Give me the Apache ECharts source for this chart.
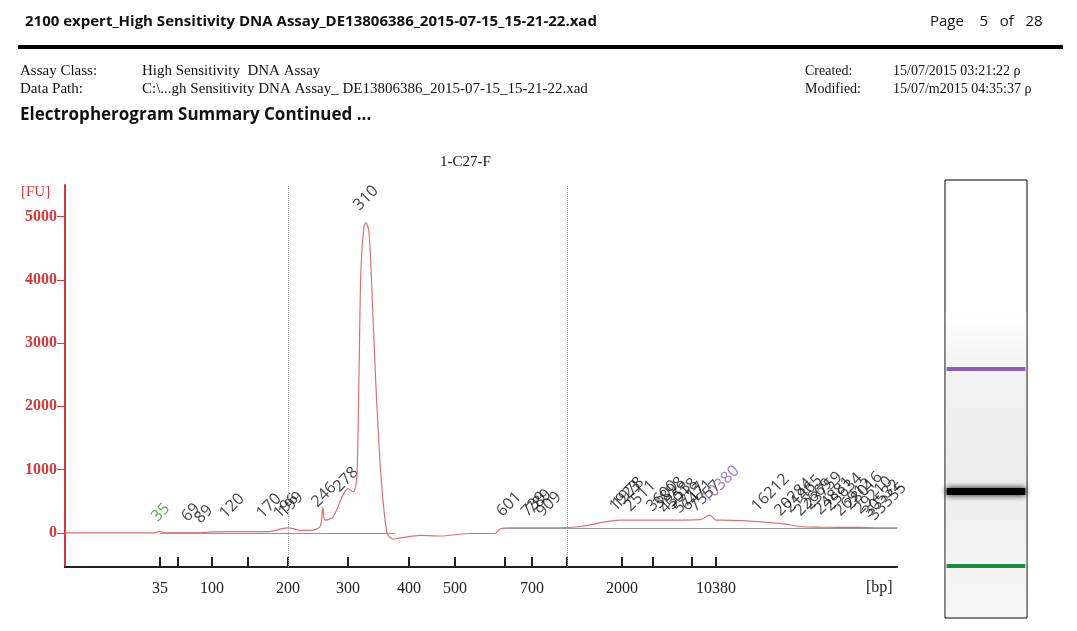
<!DOCTYPE html>
<html><head><meta charset="utf-8">
<script src="https://cdn.jsdelivr.net/npm/echarts@6/dist/echarts.min.js"></script>
<style>html,body{margin:0;background:#fff}#main{width:1077px;height:631px}</style>
</head><body><div id="main"></div>
<script>
// x is a migration position (0..832), the bp axis is a non linear ladder
var curveX = [0, 90, 95, 100, 135, 145, 165, 205, 215, 223, 230, 235, 245, 255, 258, 260, 268, 278, 283, 288, 290, 292, 294, 296, 299, 301, 304, 307, 311, 316, 322, 328, 335, 355, 375, 405, 430, 435, 445, 495, 515, 555, 575, 635, 645, 651, 657, 715, 735, 755, 795, 815, 832];
var curveY = [0, 0, 25, 0, 0, 15, 20, 20, 60, 80, 60, 40, 40, 100, 400, 200, 250, 600, 700, 650, 700, 900, 2500, 4200, 4850, 4900, 4750, 3800, 2300, 900, 0, -100, -80, -40, -50, -10, -10, 60, 80, 80, 100, 200, 200, 210, 280, 200, 200, 150, 100, 90, 85, 80, 80];
var ladderPos = [95, 147, 223, 283, 344, 390, 467, 557, 651];
var ladderText = ['35', '100', '200', '300', '400', '500', '700', '2000', '10380'];
var minorPos = [113, 183, 440, 502, 588, 627];
var gridPos = [223, 502];
var peakX = [95, 125, 138, 163, 200, 217, 222, 255, 277, 297, 440, 465, 470, 480, 553, 556, 568, 590, 597, 603, 610, 617, 625, 633, 645, 695, 718, 728, 738, 748, 758, 768, 778, 788, 798, 806, 812];
var peakY = [130, 130, 100, 180, 180, 180, 210, 360, 600, 5050, 210, 210, 250, 210, 290, 340, 290, 290, 340, 260, 320, 260, 300, 290, 420, 290, 220, 270, 220, 320, 240, 300, 220, 320, 250, 200, 150];
var peakText = ['35', '69', '89', '120', '170', '196', '199', '246', '278', '310', '601', '739', '789', '909', '1923', '1978', '2511', '3600', '3898', '4353', '5018', '5717', '6471', '7557', '10380', '16212', '20284', '21465', '22669', '23759', '24881', '25634', '26912', '28016', '29210', '30532', '33355'];
var bandPos = [43, 71, 88];
var bandColor = ['#8e5bb5', '#000000', '#1f8a3a'];
var bandWidth = [4, 7, 4];

var red = '#d03a3a';
var serif = 'Liberation Serif';
var chart = echarts.init(document.getElementById('main'));

var curve = curveX.map(function (x, i) { return [x, curveY[i]]; });
var peaks = peakX.map(function (x, i) {
    var c = '#111';
    if (peakText[i] === '35') c = '#2a9a3a';
    if (peakText[i] === '10380') c = '#8e5bb5';
    return { value: [x, peakY[i]], label: { color: c } };
});
var textMap = {};
ladderPos.forEach(function (p, i) { textMap[p] = ladderText[i]; });

var option = {
    animation: false,
    backgroundColor: '#fff',
    graphic: [
        { type: 'text', left: 25, top: 14, style: { text: '2100 expert_High Sensitivity DNA Assay_DE13806386_2015-07-15_15-21-22.xad', font: 'bold 15px "Open Sans"', fill: '#111' } },
        { type: 'text', left: 930, top: 14, style: { text: 'Page    5   of   28', font: '15px "Open Sans"', fill: '#111' } },
        { type: 'rect', shape: { x: 18, y: 45, width: 1045, height: 4 }, style: { fill: '#000' } },
        { type: 'text', left: 20, top: 62, style: { text: 'Assay Class:\nData Path:', font: '15px "Liberation Serif"', lineHeight: 18, fill: '#111' } },
        { type: 'text', left: 142, top: 62, style: { text: 'High Sensitivity  DNA Assay\nC:\\...gh Sensitivity DNA Assay_ DE13806386_2015-07-15_15-21-22.xad', font: '15px "Liberation Serif"', lineHeight: 18, fill: '#111' } },
        { type: 'text', left: 805, top: 62, style: { text: 'Created:\nModified:', font: '14px "Liberation Serif"', lineHeight: 18, fill: '#111' } },
        { type: 'text', left: 893, top: 62, style: { text: '15/07/2015 03:21:22 \u03c1\n15/07/m2015 04:35:37 \u03c1', font: '14px "Liberation Serif"', lineHeight: 18, fill: '#111' } },
        { type: 'text', left: 20, top: 107, style: { text: 'Electropherogram Summary Continued ...', font: 'bold 17px "Open Sans"', fill: '#111' } },
        { type: 'text', left: 440, top: 155, style: { text: '1-C27-F', font: '15px "Liberation Serif"', fill: '#111' } },
        { type: 'text', left: 21, top: 185, style: { text: '[FU]', font: '15px "Liberation Serif"', fill: red } },
        { type: 'text', left: 866, top: 580, style: { text: '[bp]', font: '16px "Liberation Serif"', fill: '#222' } }
    ],
    grid: [
        { left: 65, right: 180, top: 185, bottom: 64 },
        { left: 945, width: 82, top: 180, height: 438 }
    ],
    xAxis: [{
        type: 'value', min: 0, max: 832, gridIndex: 0,
        axisLine: { onZero: false, lineStyle: { color: '#222', width: 2 } },
        axisTick: { customValues: ladderPos.concat(minorPos), length: 10, inside: true, lineStyle: { color: '#222', width: 2 } },
        axisLabel: { customValues: ladderPos, formatter: function (v) { return textMap[v] || ''; }, color: '#222', fontFamily: serif, fontSize: 16, margin: 14 },
        splitLine: { show: false }
    }, {
        type: 'value', gridIndex: 1, min: 0, max: 1, show: false
    }],
    yAxis: [{
        type: 'value', min: -540, max: 5500, gridIndex: 0,
        axisLine: { show: true, lineStyle: { color: red, width: 2 } },
        axisTick: { show: true, customValues: [0, 1000, 2000, 3000, 4000, 5000], length: 8, lineStyle: { color: red } },
        axisLabel: { customValues: [0, 1000, 2000, 3000, 4000, 5000], formatter: function (v) { return String(v); }, color: red, fontFamily: serif, fontWeight: 'bold', fontSize: 16 },
        splitLine: { show: false }
    }, {
        type: 'value', gridIndex: 1, min: 0, max: 100, inverse: true,
        axisLine: { show: false }, axisLabel: { show: false }, axisTick: { show: false }, splitLine: { show: false }
    }],
    series: [{
        type: 'line', data: curve, symbol: 'none', smooth: 0.3, xAxisIndex: 0, yAxisIndex: 0,
        lineStyle: { color: '#e07070', width: 1.2 },
        markLine: {
            silent: true, symbol: 'none', label: { show: false },
            lineStyle: { color: '#aaa', type: 'dotted', width: 1 },
            data: gridPos.map(function (p) { return { xAxis: p }; }).concat([
                [{ coord: [95, 0], lineStyle: { color: '#6aa88a', type: 'solid', width: 1 } }, { coord: [330, 0] }],
                [{ coord: [440, 80], lineStyle: { color: '#999', type: 'solid', width: 1 } }, { coord: [832, 80] }]
            ])
        }
    }, {
        type: 'scatter', data: peaks, symbolSize: 0, xAxisIndex: 0, yAxisIndex: 0,
        label: { show: true, formatter: function (p) { return peakText[p.dataIndex]; }, position: 'inside', align: 'left', verticalAlign: 'bottom', rotate: 45, fontFamily: 'Open Sans', fontSize: 16 }
    }, {
        type: 'line', data: [], xAxisIndex: 1, yAxisIndex: 1,
        markArea: {
            silent: true,
            data: [
                [{ coord: [0, 0], itemStyle: { color: '#fff', borderColor: '#000', borderWidth: 1 } }, { coord: [1, 100] }],
                [{ coord: [0.01, 30], itemStyle: { color: { type: 'linear', x: 0, y: 0, x2: 0, y2: 1, colorStops: [{ offset: 0, color: '#fff' }, { offset: 0.2, color: '#f2f2f2' }, { offset: 0.5, color: '#ececec' }, { offset: 1, color: '#f7f7f7' }] } } }, { coord: [0.99, 99.8] }]
            ]
        },
        markLine: {
            silent: true, symbol: 'none', label: { show: false },
            data: bandPos.map(function (p, i) {
                return [{ coord: [0.02, p], lineStyle: { color: bandColor[i], width: bandWidth[i], type: 'solid', shadowBlur: i === 1 ? 6 : 0, shadowColor: '#000' } }, { coord: [0.98, p] }];
            })
        }
    }]
};
chart.setOption(option);
</script></body></html>
